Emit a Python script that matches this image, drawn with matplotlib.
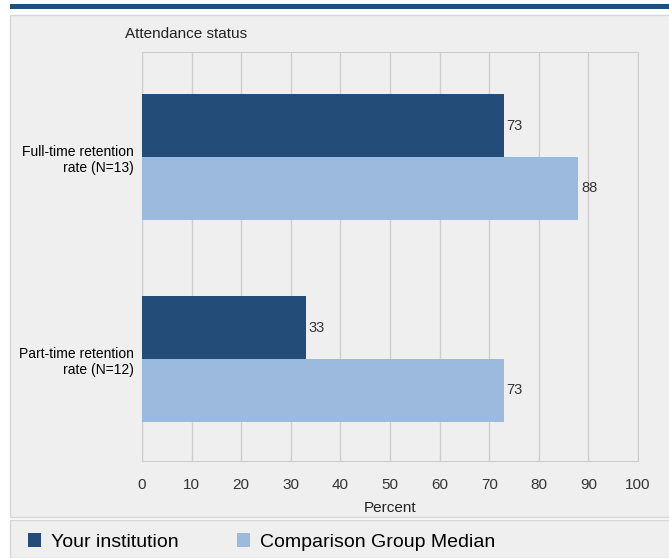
import matplotlib.pyplot as plt
from matplotlib.patches import Rectangle
import numpy as np

plt.rcParams['font.family'] = ['Liberation Sans Narrow', 'Liberation Sans', 'DejaVu Sans']

categories = ["Full-time retention\nrate (N=13)", "Part-time retention\nrate (N=12)"]
your_inst = [73, 33]
comparison = [88, 73]
series_names = ["Your institution", "Comparison Group Median"]

dark = '#234c78'
light = '#9bbade'
W, H = 669, 558

fig = plt.figure(figsize=(W / 100, H / 100), dpi=100)
fig.patch.set_facecolor('white')

# top band and grey panels (behind the axes)
fig.patches.append(Rectangle((10 / W, 1 - 9 / H), 1, 5 / H, transform=fig.transFigure,
                             facecolor='#23507a', edgecolor='none', zorder=-2))
fig.patches.append(Rectangle((10 / W, 1 - 517 / H), 1, 502 / H, transform=fig.transFigure,
                             facecolor='#efefef', edgecolor='#d6d6d6', lw=1, zorder=-2))
fig.patches.append(Rectangle((10 / W, 0), 1, 38 / H, transform=fig.transFigure,
                             facecolor='#efefef', edgecolor='#d6d6d6', lw=1, zorder=-2))

ax = fig.add_axes([142 / W, 1 - 461 / H, 496 / W, 409 / H])
ax.set_facecolor('#efefef')

y = np.arange(len(categories))
h = 0.31
b1 = ax.barh(y - h / 2, your_inst, height=h, color=dark, label=series_names[0], zorder=3)
b2 = ax.barh(y + h / 2, comparison, height=h, color=light, label=series_names[1], zorder=3)

for bars, vals in ((b1, your_inst), (b2, comparison)):
    for bar, v in zip(bars, vals):
        ax.text(v + 0.5, bar.get_y() + bar.get_height() / 2, str(v),
                va='center', ha='left', fontsize=10.5, color='#333333')

ax.set_xlim(0, 100)
ax.set_ylim(1.505, -0.52)
ax.set_xticks(np.arange(0, 101, 10))
ax.set_yticks(y)
ax.set_yticklabels(categories, fontsize=10, ha='right', multialignment='right')
ax.tick_params(axis='y', length=0, pad=6)
ax.tick_params(axis='x', length=0, pad=12, labelsize=11, colors='#333333')
ax.xaxis.grid(True, color='#cdcdcd', lw=1, zorder=0)
for s in ax.spines.values():
    s.set_color('#cdcdcd')
ax.set_xlabel('Percent', fontsize=11, color='#222222', labelpad=7)

fig.text(125 / W, 1 - 34 / H, 'Attendance status', fontsize=11, va='center', ha='left',
         color='#222222')

fig.legend(handles=[b1, b2], labels=series_names, loc='center left',
           bbox_to_anchor=(10 / W, 1 - 542 / H), ncol=2, frameon=False,
           fontsize=14, handlelength=0.7, handleheight=0.7, columnspacing=3.0,
           handletextpad=0.5)

fig.savefig('out.png', dpi=100)
